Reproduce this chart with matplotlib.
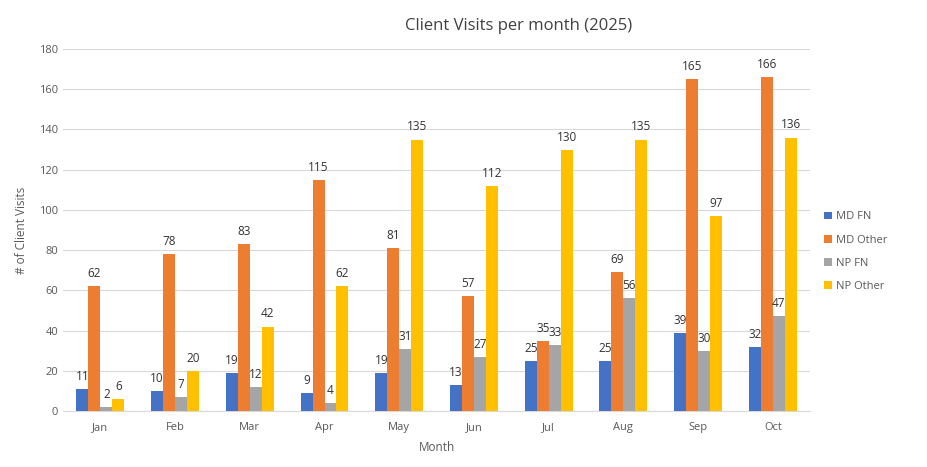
import numpy as np
import matplotlib
matplotlib.use('Agg')
import matplotlib.pyplot as plt

plt.rcParams['font.family'] = ['Open Sans', 'DejaVu Sans']

months = ['Jan', 'Feb', 'Mar', 'Apr', 'May', 'Jun', 'Jul', 'Aug', 'Sep', 'Oct']
md_fn = [11, 10, 19, 9, 19, 13, 25, 25, 39, 32]
md_other = [62, 78, 83, 115, 81, 57, 35, 69, 165, 166]
np_fn = [2, 7, 12, 4, 31, 27, 33, 56, 30, 47]
np_other = [6, 20, 42, 62, 135, 112, 130, 135, 97, 136]

series = [('MD FN', md_fn, '#4472C4'),
          ('MD Other', md_other, '#ED7D31'),
          ('NP FN', np_fn, '#A5A5A5'),
          ('NP Other', np_other, '#FFC000')]

fig = plt.figure(figsize=(9.27, 4.67), dpi=100)
ax = fig.add_axes([0.068, 0.12, 0.806, 0.775])

x = np.arange(len(months))
w = 0.16
for i, (name, vals, col) in enumerate(series):
    pos = x + (i - 1.5) * w
    ax.bar(pos, vals, w, color=col, label=name, zorder=3)
    for xp, v in zip(pos, vals):
        ax.text(xp, v + 3, str(v), ha='center', va='bottom', fontsize=8.5, color='#333333')

ax.set_xlim(-0.5, len(months) - 0.5)
ax.set_ylim(0, 180)
ax.set_yticks(range(0, 181, 20))
ax.set_xticks(x)
ax.set_xticklabels(months)
ax.tick_params(axis='both', length=0, labelsize=8, colors='#595959')
ax.tick_params(axis='x', pad=8)
ax.grid(axis='y', color='#D9D9D9', linewidth=0.8, zorder=0)
for s in ['top', 'right', 'left']:
    ax.spines[s].set_visible(False)
ax.spines['bottom'].set_color('#D9D9D9')

ax.set_title('Client Visits per month (2025)', fontsize=12, color='#404040', pad=14, x=0.61)
ax.set_xlabel('Month', fontsize=8.5, color='#595959', labelpad=6)
ax.set_ylabel('# of Client Visits', fontsize=8.5, color='#595959', labelpad=8)

ax.legend(loc='center left', bbox_to_anchor=(1.005, 0.44), frameon=False, fontsize=8,
          handlelength=0.7, handleheight=0.7, labelspacing=1.1, handletextpad=0.4,
          labelcolor='#595959')

fig.savefig('out.png', dpi=100)
